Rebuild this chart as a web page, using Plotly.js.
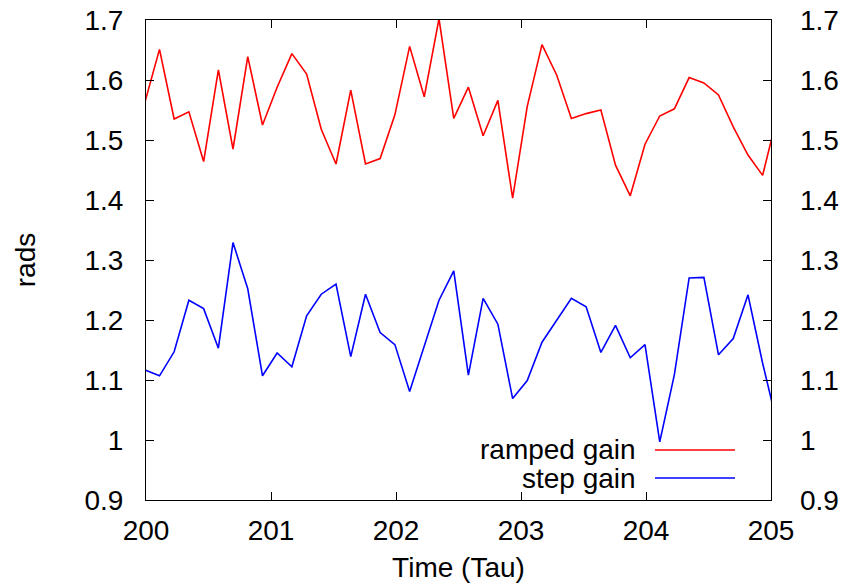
<!DOCTYPE html>
<html>
<head>
<meta charset="utf-8">
<script src="https://cdn.plot.ly/plotly-3.0.1.min.js"></script>
<style>
  html, body { margin: 0; padding: 0; background: #ffffff; }
  #chart { width: 841px; height: 585px; }
</style>
</head>
<body>
<div id="chart"></div>
<script>
// Sample times (Tau)
const time = [
  199.990, 200.108, 200.225, 200.343, 200.461, 200.579, 200.696, 200.814, 200.932, 201.049,
  201.167, 201.285, 201.402, 201.520, 201.638, 201.756, 201.873, 201.991, 202.109, 202.226,
  202.344, 202.462, 202.579, 202.697, 202.815, 202.933, 203.050, 203.168, 203.286, 203.403,
  203.521, 203.639, 203.756, 203.874, 203.992, 204.110, 204.227, 204.345, 204.463, 204.580,
  204.698, 204.816, 204.933, 205.051
];

// ramped gain (rads)
const rampedGain = [
  1.562, 1.651, 1.535, 1.547, 1.464, 1.617, 1.485, 1.639, 1.525, 1.588,
  1.644, 1.610, 1.518, 1.460, 1.583, 1.460, 1.469, 1.542, 1.656, 1.572,
  1.702, 1.536, 1.588, 1.507, 1.566, 1.403, 1.556, 1.659, 1.608, 1.536,
  1.544, 1.550, 1.458, 1.407, 1.493, 1.540, 1.552, 1.604, 1.595, 1.575,
  1.522, 1.475, 1.441, 1.541
];

// step gain (rads)
const stepGain = [
  1.117, 1.107, 1.147, 1.233, 1.219, 1.153, 1.329, 1.252, 1.107, 1.145,
  1.122, 1.207, 1.243, 1.260, 1.139, 1.243, 1.179, 1.159, 1.081, 1.156,
  1.233, 1.282, 1.108, 1.236, 1.193, 1.069, 1.099, 1.163, 1.199, 1.236,
  1.222, 1.146, 1.191, 1.137, 1.159, 0.997, 1.109, 1.270, 1.271, 1.142,
  1.169, 1.242, 1.128, 1.025
];

const seriesNames = ["ramped gain", "step gain"];
const seriesColors = ["#ff0000", "#0000ff"];

const xRange = [200, 205];
const yRange = [0.9, 1.7];

const FONT = "Liberation Sans, Arial, Helvetica, sans-serif";
const FS = 28;

const traces = [
  { x: time, y: rampedGain, type: "scatter", mode: "lines", name: seriesNames[0],
    line: { color: seriesColors[0], width: 1.6 }, showlegend: false },
  { x: time, y: stepGain, type: "scatter", mode: "lines", name: seriesNames[1],
    line: { color: seriesColors[1], width: 1.6 }, showlegend: false },
  // invisible copy bound to the mirrored right-hand axis so its labels are drawn
  { x: time, y: rampedGain, type: "scatter", mode: "lines", yaxis: "y2",
    line: { color: "rgba(0,0,0,0)", width: 0 }, opacity: 0, showlegend: false, hoverinfo: "skip" }
];

const legendTextX = 0.787;
const legendLineX0 = 0.8144, legendLineX1 = 0.9424;
const legendY = [0.1042, 0.0458];

const layout = {
  width: 841, height: 585,
  margin: { l: 146, r: 70, t: 20, b: 85, pad: 0 },
  paper_bgcolor: "#ffffff", plot_bgcolor: "#ffffff",
  font: { family: FONT, size: FS, color: "#000000" },
  showlegend: false,
  xaxis: {
    range: xRange, dtick: 1, tick0: 200,
    ticks: "inside", ticklen: 8, tickwidth: 1, tickcolor: "#000",
    showline: true, linecolor: "#000", linewidth: 1, mirror: "ticks",
    showgrid: false, zeroline: false,
    ticklabelstandoff: 5,
    tickfont: { family: FONT, size: FS, color: "#000" },
    title: { text: "Time (Tau)", font: { family: FONT, size: FS, color: "#000" }, standoff: 12 }
  },
  yaxis: {
    range: yRange, dtick: 0.1, tick0: 0.9,
    ticks: "inside", ticklen: 8, tickwidth: 1, tickcolor: "#000",
    showline: true, linecolor: "#000", linewidth: 1, mirror: "ticks",
    showgrid: false, zeroline: false,
    ticklabelstandoff: 16,
    tickfont: { family: FONT, size: FS, color: "#000" },
    title: { text: "rads", font: { family: FONT, size: FS, color: "#000" }, standoff: 40 }
  },
  yaxis2: {
    overlaying: "y", side: "right", anchor: "x",
    range: yRange, dtick: 0.1, tick0: 0.9,
    ticks: "", showline: false, showgrid: false, zeroline: false,
    ticklabelstandoff: 28,
    tickfont: { family: FONT, size: FS, color: "#000" }
  },
  annotations: [
    { xref: "paper", yref: "paper", x: legendTextX, y: legendY[0], xanchor: "right", yanchor: "middle",
      text: seriesNames[0], showarrow: false, font: { family: FONT, size: FS, color: "#000" } },
    { xref: "paper", yref: "paper", x: legendTextX, y: legendY[1], xanchor: "right", yanchor: "middle",
      text: seriesNames[1], showarrow: false, font: { family: FONT, size: FS, color: "#000" } }
  ],
  shapes: [
    { type: "line", xref: "paper", yref: "paper", x0: legendLineX0, x1: legendLineX1, y0: legendY[0], y1: legendY[0],
      line: { color: seriesColors[0], width: 1.6 } },
    { type: "line", xref: "paper", yref: "paper", x0: legendLineX0, x1: legendLineX1, y0: legendY[1], y1: legendY[1],
      line: { color: seriesColors[1], width: 1.6 } }
  ]
};

Plotly.newPlot("chart", traces, layout, { staticPlot: true, displayModeBar: false });
</script>
</body>
</html>
